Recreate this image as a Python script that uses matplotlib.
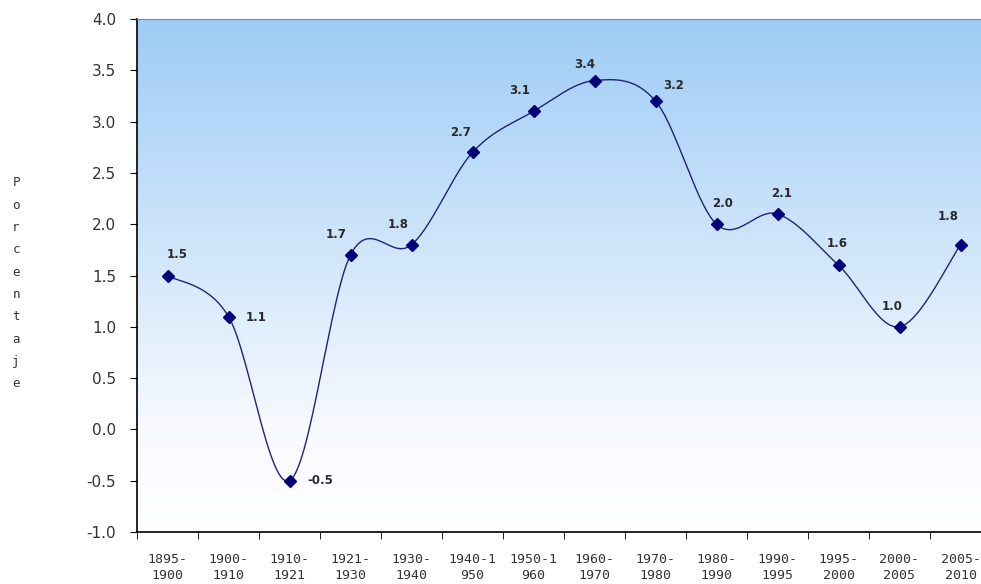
import numpy as np
import matplotlib
matplotlib.use("Agg")
import matplotlib.pyplot as plt
from matplotlib.colors import LinearSegmentedColormap

periods = ["1895-\n1900", "1900-\n1910", "1910-\n1921", "1921-\n1930", "1930-\n1940",
           "1940-1\n950", "1950-1\n960", "1960-\n1970", "1970-\n1980", "1980-\n1990",
           "1990-\n1995", "1995-\n2000", "2000-\n2005", "2005-\n2010"]
growth = [1.5, 1.1, -0.5, 1.7, 1.8, 2.7, 3.1, 3.4, 3.2, 2.0, 2.1, 1.6, 1.0, 1.8]
# label placement per point: (dx, dy) in pixels, horizontal alignment
label_pos = [(10, 21, "center"), (17, -1, "left"), (18, 0, "left"), (-14, 20, "center"),
             (-13, 20, "center"), (-12, 20, "center"), (-14, 21, "center"), (-10, 16, "center"),
             (18, 16, "center"), (6, 21, "center"), (4, 20, "center"), (-1, 22, "center"),
             (-7, 20, "center"), (-12, 28, "center")]
yticks = [-1.0, -0.5, 0.0, 0.5, 1.0, 1.5, 2.0, 2.5, 3.0, 3.5, 4.0]


def smooth_curve(xs, ys, n=30):
    """Cardinal (Catmull-Rom) spline through the points."""
    xs = np.asarray(xs, float)
    ys = np.asarray(ys, float)
    px = np.concatenate([[xs[0]], xs, [xs[-1]]])
    py = np.concatenate([[ys[0]], ys, [ys[-1]]])
    out_x, out_y = [], []
    t = np.linspace(0, 1, n)
    for i in range(1, len(px) - 2):
        p0x, p1x, p2x, p3x = px[i - 1], px[i], px[i + 1], px[i + 2]
        p0y, p1y, p2y, p3y = py[i - 1], py[i], py[i + 1], py[i + 2]
        c1x, c1y = p1x + (p2x - p0x) / 6, p1y + (p2y - p0y) / 6
        c2x, c2y = p2x - (p3x - p1x) / 6, p2y - (p3y - p1y) / 6
        bx = (1 - t) ** 3 * p1x + 3 * (1 - t) ** 2 * t * c1x + 3 * (1 - t) * t ** 2 * c2x + t ** 3 * p2x
        by = (1 - t) ** 3 * p1y + 3 * (1 - t) ** 2 * t * c1y + 3 * (1 - t) * t ** 2 * c2y + t ** 3 * p2y
        out_x.extend(bx)
        out_y.extend(by)
    return np.array(out_x), np.array(out_y)


fig = plt.figure(figsize=(9.81, 5.84), dpi=100)
fig.patch.set_facecolor("white")
ax = fig.add_axes([137 / 981, 52 / 584, 854 / 981, 513 / 584])

x = np.arange(len(growth))
ax.set_xlim(-0.5, len(growth) - 0.5)
ax.set_ylim(-1.0, 4.0)

# vertical blue-to-white gradient background
cmap = LinearSegmentedColormap.from_list(
    "bg", [(0.0, (1, 1, 1)), (0.2, (0.97, 0.98, 1.0)), (1.0, (0.62, 0.80, 0.96))])
grad = np.linspace(0, 1, 256).reshape(-1, 1)
ax.imshow(grad, aspect="auto", cmap=cmap, origin="lower",
          extent=[-0.5, len(growth) - 0.5, -1.0, 4.0], zorder=0)

sx, sy = smooth_curve(x, growth)
ax.plot(sx, sy, color="#22227a", lw=1.0, zorder=2)
ax.plot(x, growth, linestyle="none", marker="D", ms=6, color="#00007a", zorder=3)

for xi, yi, (dx, dy, ha) in zip(x, growth, label_pos):
    ax.annotate(f"{yi:.1f}", (xi, yi), xytext=(dx, dy), textcoords="offset pixels",
                ha=ha, va="center", fontsize=8.5, fontweight="bold", color="#2a2a2a")

ax.set_yticks(yticks)
ax.set_yticklabels([f"{v:.1f}" for v in yticks], fontsize=11, color="#333333")
ax.set_xticks(x)
ax.set_xticklabels(periods, fontsize=9.5, color="#333333", linespacing=1.3,
                   family="DejaVu Sans Mono")
ax.set_xticks(np.arange(len(growth) + 1) - 0.5, minor=True)
ax.tick_params(axis="x", which="major", length=0, pad=15)
ax.tick_params(axis="x", which="minor", length=5, direction="out", color="black")
ax.tick_params(axis="y", length=5, direction="out", color="black", pad=10)

ax.spines["right"].set_visible(False)
ax.spines["top"].set_color("#888888")
ax.spines["left"].set_color("black")
ax.spines["bottom"].set_color("black")
ax.spines["left"].set_linewidth(1.2)
ax.spines["bottom"].set_linewidth(1.2)

# stacked vertical axis title
title = "Porcentaje"
for i, ch in enumerate(title):
    fig.text(16 / 981, 1 - (183 + i * 22.3) / 584, ch, fontsize=9, color="#333333",
             ha="center", va="center", family="DejaVu Sans Mono")

fig.savefig("out.png", dpi=100)
